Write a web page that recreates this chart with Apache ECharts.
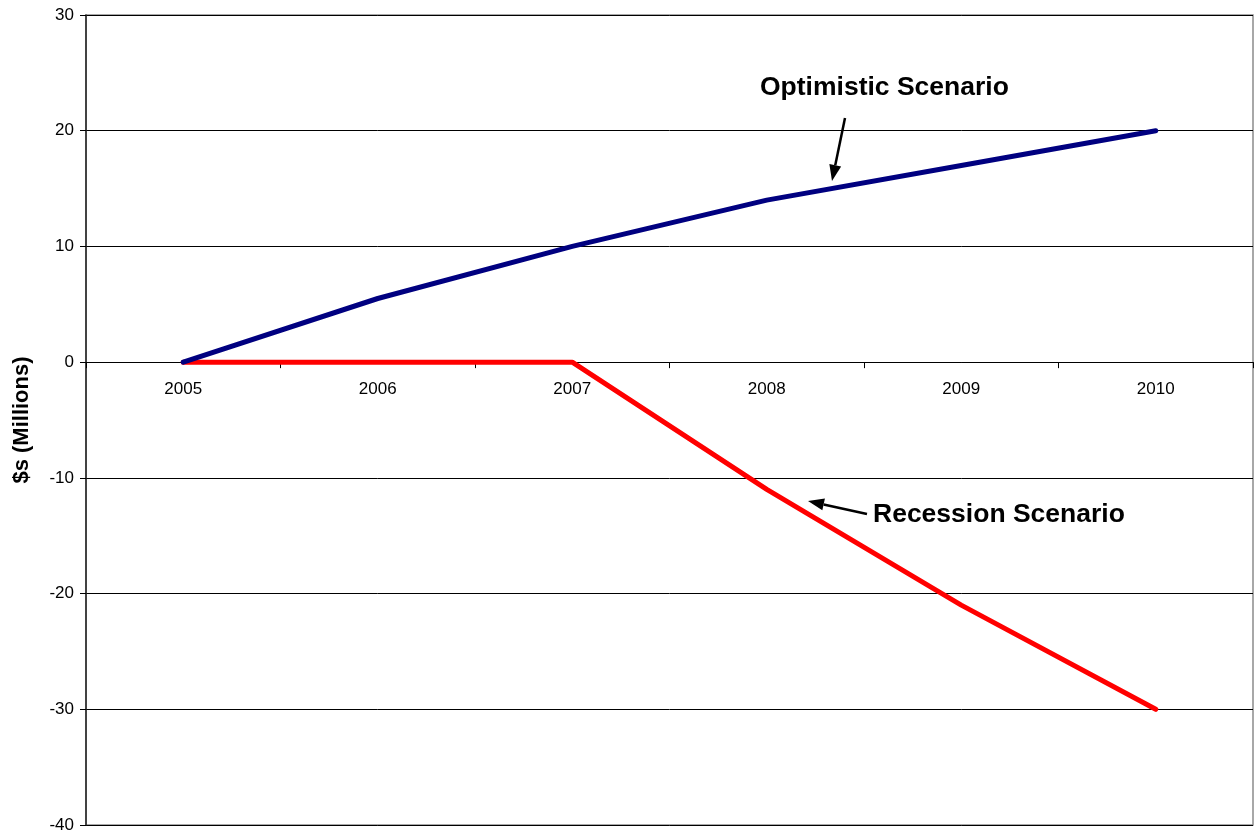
<!DOCTYPE html>
<html>
<head>
<meta charset="utf-8">
<style>
  html, body { margin: 0; padding: 0; background: #ffffff; }
  #chart { width: 1254px; height: 832px; }
</style>
<script src="https://cdn.jsdelivr.net/npm/echarts@6/dist/echarts.min.js"></script>
</head>
<body>
<div id="chart"></div>
<script>
// Projection years and the two scenario paths ($ millions)
const years = ['2005', '2006', '2007', '2008', '2009', '2010'];
const optimistic = [0, 5.5, 10, 14, 17, 20];
const recession = [0, 0, 0, -11, -21, -30];

const yMin = -40, yMax = 30, yStep = 10;
const FONT = '"Liberation Sans", Arial, sans-serif';

const chart = echarts.init(document.getElementById('chart'));

// Arrow (shaft + filled head) from tail to tip, in pixels
function arrow(x1, y1, x2, y2) {
  const ang = Math.atan2(y2 - y1, x2 - x1);
  const len = 16, half = 6;
  const bx = x2 - len * Math.cos(ang), by = y2 - len * Math.sin(ang);
  const px = -Math.sin(ang) * half, py = Math.cos(ang) * half;
  return [
    { type: 'line', shape: { x1: x1, y1: y1, x2: bx, y2: by },
      style: { stroke: '#000', lineWidth: 2.5 }, z: 10 },
    { type: 'polygon', shape: { points: [[x2, y2], [bx + px, by + py], [bx - px, by - py]] },
      style: { fill: '#000' }, z: 10 }
  ];
}

const option = {
  backgroundColor: '#ffffff',
  animation: false,
  grid: { left: 86, right: 1, top: 15, bottom: 7, show: true,
          outerBoundsMode: 'none', containLabel: false,
          borderColor: '#8c8c8c', borderWidth: 1.5, backgroundColor: 'transparent' },
  xAxis: {
    type: 'category',
    data: years,
    boundaryGap: true,
    position: 'bottom',
    offset: 0,
    axisLine: { onZero: false, lineStyle: { color: '#000', width: 1 } },
    axisTick: { show: true, alignWithLabel: false, length: 6, inside: false,
                lineStyle: { color: '#000', width: 1 } },
    axisLabel: { color: '#000', fontSize: 17, fontFamily: FONT, margin: 19 },
    splitLine: { show: false }
  },
  yAxis: {
    type: 'value',
    min: yMin, max: yMax, interval: yStep,
    name: '$s (Millions)',
    nameLocation: 'middle',
    nameGap: 53,
    nameRotate: 90,
    nameTextStyle: { color: '#000', fontSize: 22, fontWeight: 'bold', fontFamily: FONT },
    axisLine: { show: true, onZero: false, lineStyle: { color: '#222', width: 1.5 } },
    axisTick: { show: true, length: 6, lineStyle: { color: '#000', width: 1 } },
    axisLabel: { color: '#000', fontSize: 17, fontFamily: FONT, margin: 12 },
    splitLine: { show: true, lineStyle: { color: '#000', width: 1 } }
  },
  series: [
    {
      name: 'Optimistic Scenario',
      type: 'line',
      data: optimistic,
      symbol: 'none',
      lineStyle: { color: '#000080', width: 5, cap: 'round', join: 'round' },
      z: 5
    },
    {
      name: 'Recession Scenario',
      type: 'line',
      data: recession,
      symbol: 'none',
      lineStyle: { color: '#ff0000', width: 5, cap: 'round', join: 'round' },
      z: 4
    }
  ],
  graphic: [
    { type: 'text', left: 760, top: 74, z: 10,
      style: { text: 'Optimistic Scenario', font: 'bold 26.5px ' + FONT, fill: '#000' } },
    { type: 'text', left: 873, top: 501, z: 10,
      style: { text: 'Recession Scenario', font: 'bold 26.5px ' + FONT, fill: '#000' } }
  ].concat(arrow(845, 118, 832, 181), arrow(867, 514, 808, 501))
};

chart.setOption(option);

// Lift the category axis (line, ticks and labels) up to the zero line
const zeroY = chart.convertToPixel({ yAxisIndex: 0 }, 0);
const floorY = chart.convertToPixel({ yAxisIndex: 0 }, yMin);
chart.setOption({ xAxis: { offset: -(floorY - zeroY) } });
</script>
</body>
</html>
